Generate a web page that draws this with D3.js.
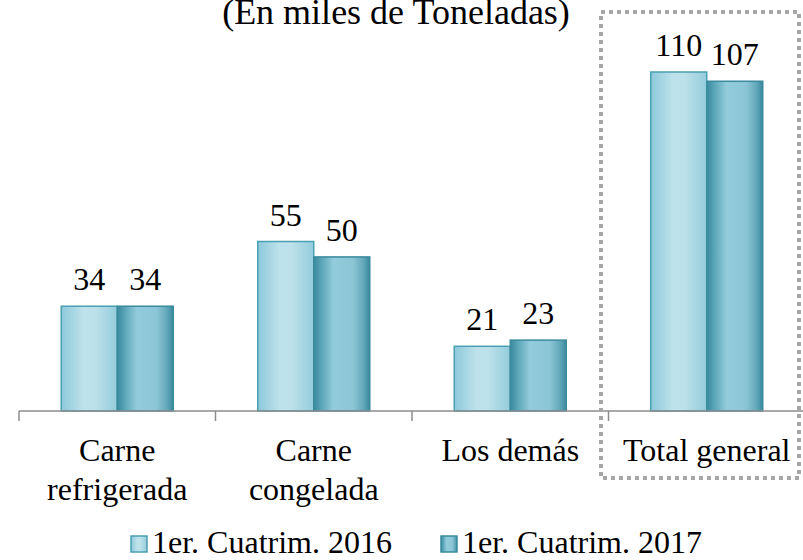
<!DOCTYPE html>
<html>
<head>
<meta charset="utf-8">
<title>Carne</title>
<script src="https://cdn.jsdelivr.net/npm/d3@7"></script>
<style>
  body { margin: 0; background: #fff; }
</style>
</head>
<body>
<div id="chart"></div>
<script>
// data
var categories = [["Carne", "refrigerada"], ["Carne", "congelada"], ["Los demás"], ["Total general"]];
var series = ["1er. Cuatrim. 2016", "1er. Cuatrim. 2017"];
var values2016 = [34, 55, 21, 110];
var values2017 = [34, 50, 23, 107];

var W = 803, H = 560;
var baseY = 411;
var serif = "'Liberation Serif'";

var svg = d3.select("#chart").append("svg")
    .attr("width", W).attr("height", H);

// gradients
var defs = svg.append("defs");
var g1 = defs.append("linearGradient").attr("id", "grad0");
[[0, "#8dc9da"], [0.4, "#bee2eb"], [0.6, "#bde1ea"], [1, "#93ccdb"]].forEach(function(s) {
  g1.append("stop").attr("offset", s[0]).attr("stop-color", s[1]);
});
var g2 = defs.append("linearGradient").attr("id", "grad1");
[[0, "#3a899d"], [0.15, "#5ea8ba"], [0.35, "#92cbdb"], [0.7, "#8cc6d6"], [0.88, "#64a9bb"], [1, "#3a899d"]].forEach(function(s) {
  g2.append("stop").attr("offset", s[0]).attr("stop-color", s[1]);
});

var x = d3.scaleBand()
    .domain(d3.range(categories.length))
    .range([19, 805]);

var xSub = d3.scaleBand()
    .domain([0, 1])
    .range([0, x.bandwidth()])
    .paddingInner(0)
    .paddingOuter(0.754);

var y = d3.scaleLinear()
    .domain([0, 110])
    .range([baseY, 72]);

// title (cut at top in the original)
svg.append("text")
    .attr("x", 396).attr("y", 24)
    .attr("text-anchor", "middle")
    .style("font-family", serif)
    .style("font-size", "36px")
    .text("(En miles de Toneladas)");

// bars
var data = [values2016, values2017];
data.forEach(function(vals, si) {
  svg.selectAll(".bar" + si)
    .data(vals)
    .enter()
    .append("rect")
      .attr("x", function(d, i) { return x(i) + xSub(si); })
      .attr("y", function(d) { return y(d); })
      .attr("width", xSub.bandwidth())
      .attr("height", function(d) { return baseY - y(d); })
      .attr("fill", "url(#grad" + si + ")")
      .attr("stroke", si === 0 ? "#4a9fb2" : "#3a8b9f")
      .attr("stroke-width", 1.5);

  svg.selectAll(".lab" + si)
    .data(vals)
    .enter()
    .append("text")
      .attr("x", function(d, i) { return x(i) + xSub(si) + xSub.bandwidth() / 2; })
      .attr("y", function(d) { return y(d) - 16; })
      .attr("text-anchor", "middle")
      .style("font-family", serif)
      .style("font-size", "32px")
      .text(function(d) { return d; });
});

// axis
var axis = svg.append("g");
axis.append("line")
    .attr("x1", 19).attr("x2", W)
    .attr("y1", baseY).attr("y2", baseY)
    .attr("stroke", "#8c8c8c").attr("stroke-width", 1.5);
axis.selectAll(".tick")
    .data(d3.range(categories.length + 1))
    .enter()
    .append("line")
      .attr("x1", function(i) { return 19 + i * x.step(); })
      .attr("x2", function(i) { return 19 + i * x.step(); })
      .attr("y1", baseY).attr("y2", baseY + 10)
      .attr("stroke", "#8c8c8c").attr("stroke-width", 1.5);

// category labels
categories.forEach(function(lines, i) {
  var t = svg.append("text")
      .attr("text-anchor", "middle")
      .style("font-family", serif)
      .style("font-size", "32px");
  lines.forEach(function(l, k) {
    t.append("tspan")
      .attr("x", x(i) + x.bandwidth() / 2)
      .attr("y", 461 + k * 39)
      .text(l);
  });
});

// dotted highlight box
svg.append("rect")
    .attr("x", 601).attr("y", 12)
    .attr("width", 198).attr("height", 466)
    .attr("fill", "none")
    .attr("stroke", "#a6a6a6")
    .attr("stroke-width", 4)
    .attr("stroke-dasharray", "4,4");

// legend
var legendX = [131, 441];
series.forEach(function(s, si) {
  svg.append("rect")
    .attr("x", legendX[si]).attr("y", 536)
    .attr("width", 16).attr("height", 16)
    .attr("fill", "url(#grad" + si + ")")
    .attr("stroke", si === 0 ? "#4a9fb2" : "#3a8b9f")
    .attr("stroke-width", 1.5);
  svg.append("text")
    .attr("x", legendX[si] + 21).attr("y", 553)
    .style("font-family", serif)
    .style("font-size", "32px")
    .text(s);
});
</script>
</body>
</html>
